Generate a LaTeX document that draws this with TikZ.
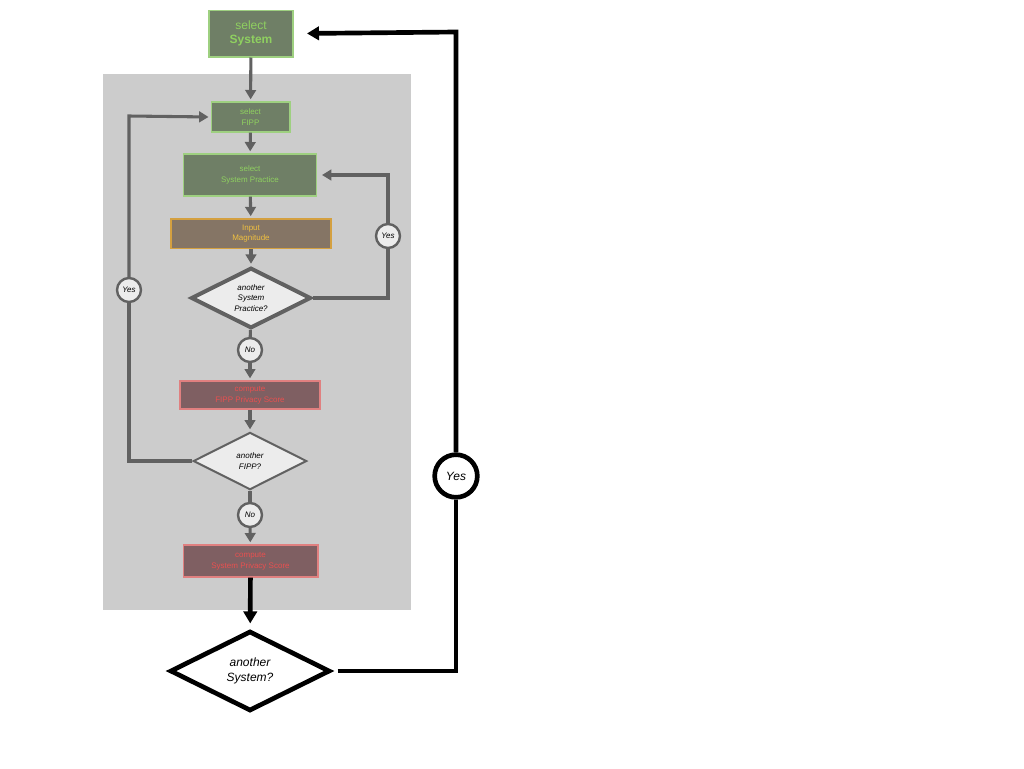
\documentclass[tikz,border=0pt]{standalone}
\usepackage{fontspec}
\setmainfont{Liberation Sans}
\usetikzlibrary{shapes.geometric,arrows.meta}
\definecolor{gbox}{HTML}{6F7F66}
\definecolor{gline}{HTML}{9ED080}
\definecolor{gtext}{HTML}{8FD060}
\definecolor{obox}{HTML}{857565}
\definecolor{oline}{HTML}{D4A040}
\definecolor{otext}{HTML}{F0C040}
\definecolor{rbox}{HTML}{7F5F62}
\definecolor{rline}{HTML}{E08080}
\definecolor{rtext}{HTML}{E85050}
\definecolor{conn}{HTML}{616161}
\tikzset{
 px/.style={x=0.75pt,y=-0.75pt},
 boxs/.style={draw, line width=1pt, inner sep=0pt, align=center, font=\fontsize{6}{8}\selectfont},
 gb/.style={boxs, fill=gbox, draw=gline, text=gtext},
 ob/.style={boxs, fill=obox, draw=oline, text=otext},
 rb/.style={boxs, fill=rbox, draw=rline, text=rtext},
 dia/.style={diamond, draw=conn, line width=3pt, fill=gray!15, inner sep=0pt, align=center, font=\fontsize{6}{8}\selectfont\itshape},
 cir/.style={circle, draw=conn, line width=1.8pt, fill=gray!15, inner sep=0pt, minimum size=18pt, font=\fontsize{6}{8}\selectfont\itshape},
 arr/.style={draw=conn, line width=2.3pt, -{Triangle[length=7pt,width=8pt]}, shorten >=1.5pt},
 ln/.style={draw=conn, line width=2.3pt},
 barr/.style={draw=black, line width=3.5pt, -{Triangle[length=9pt,width=10pt]}, shorten >=4pt},
}
\begin{document}
\begin{tikzpicture}[px]
\useasboundingbox (0,0) rectangle (1024,768);
\fill[white] (0,0) rectangle (1024,768);
\fill[gray!40] (103,74) rectangle (411,610);
\node[gb, minimum width=63pt, minimum height=35pt, font=\fontsize{9}{11}\selectfont] (sys) at (251,33.5) {select\\\textbf{System}};
\node[gb, minimum width=59pt, minimum height=22.5pt] (fipp) at (250.5,117) {select\\FIPP};
\node[gb, minimum width=100pt, minimum height=31.5pt] (prac) at (250,175) {select\\System Practice};
\node[ob, minimum width=120pt, minimum height=22pt] (mag) at (251,233.5) {Input\\Magnitude};
\node[dia, minimum width=90pt, minimum height=43pt] (d1) at (251,298) {another\\System\\Practice?};
\node[cir] (no1) at (250,350) {No};
\node[rb, minimum width=105pt, minimum height=21pt] (cf) at (250,395) {compute\\FIPP Privacy Score};
\node[dia, line width=1.5pt, minimum width=85pt, minimum height=43pt] (d2) at (250,461) {another\\FIPP?};
\node[cir] (no2) at (250,515) {No};
\node[rb, minimum width=101pt, minimum height=24pt] (cs) at (250.5,561) {compute\\System Privacy Score};
\node[diamond, draw=black, line width=3.5pt, fill=white, inner sep=0pt, minimum width=120pt, minimum height=60pt, align=center, font=\fontsize{9}{11}\selectfont\itshape] (d3) at (250,671) {another\\System?};
\node[cir] (y1) at (388,236) {Yes};
\node[cir] (y2) at (129,290) {Yes};
\node[circle, draw=black, line width=3.5pt, fill=white, inner sep=0pt, minimum size=32pt, font=\fontsize{9}{11}\selectfont\itshape] (y3) at (456,476) {Yes};
\coordinate (a1) at (388,298); \coordinate (a2) at (388,175);
\coordinate (b1) at (129,461); \coordinate (b2) at (129,116);
\coordinate (c1) at (456,671); \coordinate (c2) at (456,32);
\draw[arr] (sys) -- (fipp);
\draw[arr] (fipp) -- (prac);
\draw[arr] (prac) -- (mag);
\draw[arr] (mag) -- (d1);
\draw[ln] (d1) -- (no1); \draw[arr] (no1) -- (cf);
\draw[arr] (cf) -- (d2);
\draw[ln] (d2) -- (no2); \draw[arr] (no2) -- (cs);
\draw[barr] (cs) -- (d3);
\draw[ln] (d1.east) -- (a1) -- (y1); \draw[arr] (y1) -- (a2) -- ([xshift=2pt]prac.east);
\draw[ln] (d2.west) -- (b1) -- (y2); \draw[arr] (y2) -- (b2) -- (fipp.west);
\draw[draw=black, line width=3.5pt] ([xshift=4pt]d3.east) -- (c1) -- (y3);
\draw[barr] (y3) -- (c2) -- ([xshift=6pt]sys.east);
\end{tikzpicture}
\end{document}
